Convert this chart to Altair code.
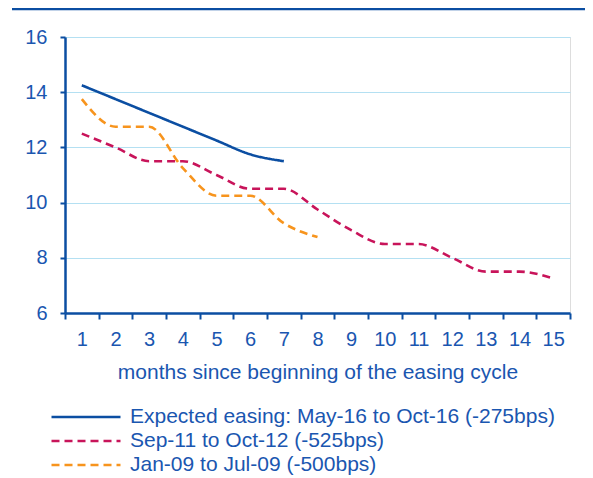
import altair as alt
import pandas as pd

months = list(range(1, 16))
series_names = [
    "Expected easing: May-16 to Oct-16 (-275bps)",
    "Sep-11 to Oct-12 (-525bps)",
    "Jan-09 to Jul-09 (-500bps)",
]
expected = [14.25, 13.75, 13.25, 12.75, 12.25, 11.75, 11.5]
sep11 = [12.5, 12.0, 11.5, 11.5, 11.0, 10.5, 10.5, 9.75, 9.0, 8.5, 8.5, 8.0, 7.5, 7.5, 7.25]
jan09 = [13.75, 12.75, 12.75, 11.25, 10.25, 10.25, 9.25, 8.75]

rows = []
for name, vals in zip(series_names, [expected, sep11, jan09]):
    for m, v in zip(months, vals):
        rows.append({"month": m, "rate": v, "series": name})
df = pd.DataFrame(rows)

BLUE = "#0b4ea2"
TEXT = "#1a56b0"
CRIMSON = "#c8145a"
ORANGE = "#f7941d"
GRID = "#b4e0f2"
FONT = "Liberation Sans"
FS = 20
FS_BIG = 21

lines = alt.Chart(df).mark_line(strokeWidth=2.6, interpolate="monotone").encode(
    x=alt.X(
        "month:O",
        scale=alt.Scale(type="band", paddingInner=0, paddingOuter=0),
        bandPosition=0.5,
        sort=months,
        axis=alt.Axis(
            title="months since beginning of the easing cycle",
            labelAngle=0,
            tickBand="extent",
            grid=False,
            domainColor=BLUE, domainWidth=2.5,
            tickColor=BLUE, tickWidth=2, tickSize=6,
            labelColor=TEXT, labelFontSize=FS, labelFont=FONT, labelPadding=10,
            titleColor=TEXT, titleFontSize=FS_BIG, titleFont=FONT, titleFontWeight="normal",
            titlePadding=12,
        ),
    ),
    y=alt.Y(
        "rate:Q",
        scale=alt.Scale(domain=[6, 16], nice=False, zero=False),
        axis=alt.Axis(
            title=None,
            values=[6, 8, 10, 12, 14, 16],
            grid=True, gridColor=GRID, gridWidth=1.2,
            domainColor=BLUE, domainWidth=2.5,
            tickColor=BLUE, tickWidth=2, tickSize=5,
            labelColor=TEXT, labelFontSize=FS, labelFont=FONT, labelPadding=13,
        ),
    ),
    color=alt.Color(
        "series:N",
        sort=series_names,
        scale=alt.Scale(domain=series_names, range=[BLUE, CRIMSON, ORANGE]),
        legend=alt.Legend(
            title=None,
            orient="none",
            legendX=-15,
            legendY=367,
            padding=0,
            direction="vertical",
            symbolType="M-1,0H5",
            symbolSize=529,
            symbolStrokeWidth=2.6,
            labelFont=FONT,
            labelFontSize=FS_BIG,
            labelColor=TEXT,
            labelOffset=54,
            rowPadding=1,
            labelLimit=600,
        ),
    ),
    strokeDash=alt.StrokeDash(
        "series:N",
        sort=series_names,
        scale=alt.Scale(domain=series_names, range=[[1, 0], [8, 5], [8, 5]]),
        legend=None,
    ),
)

top_rule = alt.Chart(pd.DataFrame({"a": [0]})).mark_rule(color=BLUE, strokeWidth=2.6).encode(
    x=alt.value(-53), x2=alt.value(528), y=alt.value(-28)
)

chart = alt.layer(lines, top_rule).properties(
    width=505, height=276,
    padding={"left": 57, "top": 29, "right": 15, "bottom": 162},
    autosize=alt.AutoSizeParams(type="none"),
).configure_view(stroke=None).configure(background="white")

chart.save("out.html", embed_options={"renderer": "svg", "actions": False})
